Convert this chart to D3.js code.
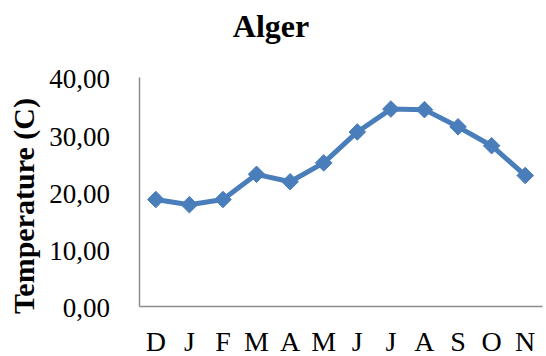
<!DOCTYPE html>
<html>
<head>
<meta charset="utf-8">
<script src="https://cdn.jsdelivr.net/npm/d3@7/dist/d3.min.js"></script>
<style>
  html, body { margin: 0; padding: 0; background: #fff; }
  svg { display: block; }
</style>
</head>
<body>
<svg id="chart" width="546" height="356"></svg>
<script>
// Monthly mean temperature, Alger (°C)
const months = ["D", "J", "F", "M", "A", "M", "J", "J", "A", "S", "O", "N"];
const temps = [18.6, 17.7, 18.6, 23.0, 21.7, 25.0, 30.4, 34.4, 34.3, 31.3, 28.0, 22.8];
const yTicks = [0, 10, 20, 30, 40];
const chartTitle = "Alger";
const yTitle = "Temperature (C)";

const FONT = "'Liberation Serif'";
const svg = d3.select("#chart");
const margin = { left: 139, right: 4, top: 77, bottom: 50 };
const W = 546, H = 356;

const x = d3.scaleBand()
  .domain(months.map((m, i) => i))
  .range([margin.left, W - margin.right]);

const y = d3.scaleLinear()
  .domain([0, 40])
  .range([H - margin.bottom, margin.top]);

const fmt = v => d3.format(".2f")(v).replace(".", ",");

// Title
svg.append("text")
  .attr("x", 271).attr("y", 37)
  .attr("text-anchor", "middle")
  .attr("font-family", FONT)
  .attr("font-weight", "bold")
  .attr("font-size", 32)
  .text(chartTitle);

// Y axis title
svg.append("text")
  .attr("transform", `translate(34,206) rotate(-90)`)
  .attr("text-anchor", "middle")
  .attr("font-family", FONT)
  .attr("font-weight", "bold")
  .attr("font-size", 30)
  .text(yTitle);

// Y axis
const yAxis = svg.append("g")
  .attr("transform", `translate(${margin.left},0)`)
  .call(d3.axisLeft(y).tickValues(yTicks).tickSize(0).tickPadding(29).tickFormat(fmt));
yAxis.attr("font-family", FONT);
yAxis.select(".domain").attr("stroke", "#8c8c8c").attr("stroke-width", 1.5);
yAxis.selectAll("text")
  .attr("font-family", FONT)
  .attr("font-size", 27)
  .attr("fill", "#000")
  .attr("dy", "0.4em");

// X axis
const xAxis = svg.append("g")
  .attr("transform", `translate(0,${y(0)})`)
  .call(d3.axisBottom(x).tickSize(0).tickPadding(25).tickFormat(i => months[i]));
xAxis.attr("font-family", FONT);
xAxis.select(".domain").attr("stroke", "#8c8c8c").attr("stroke-width", 1.5);
xAxis.selectAll("text")
  .attr("font-family", FONT)
  .attr("font-size", 28)
  .attr("fill", "#000");

// Series line
const color = "#4a7ebb";
const line = d3.line()
  .x((d, i) => x(i) + x.bandwidth() / 2)
  .y(d => y(d));

svg.append("path")
  .datum(temps)
  .attr("fill", "none")
  .attr("stroke", color)
  .attr("stroke-width", 5)
  .attr("stroke-linejoin", "round")
  .attr("d", line);

// Diamond markers
const diamond = d3.symbol().type(d3.symbolDiamond2).size(175);
svg.append("g")
  .selectAll("path")
  .data(temps)
  .join("path")
  .attr("transform", (d, i) => `translate(${x(i) + x.bandwidth() / 2},${y(d)})`)
  .attr("d", diamond)
  .attr("fill", color)
  .attr("stroke", color)
  .attr("stroke-width", 1);
</script>
</body>
</html>
